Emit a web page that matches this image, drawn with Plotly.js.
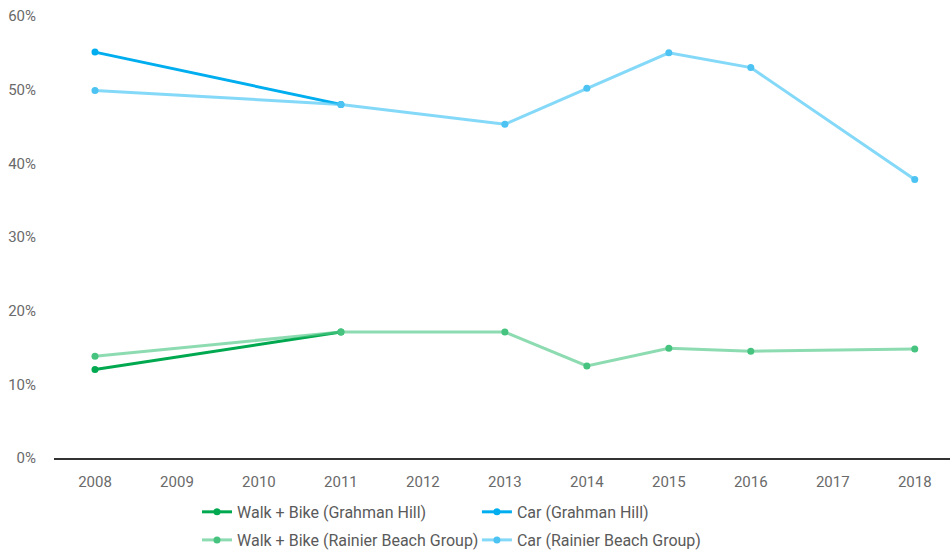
<!DOCTYPE html>
<html>
<head>
<meta charset="utf-8">
<script src="https://cdn.plot.ly/plotly-3.0.1.min.js"></script>
<style>html,body{margin:0;padding:0;background:#fff;}#chart{width:950px;height:550px;}</style>
</head>
<body>
<div id="chart"></div>
<script>
var yearTicks = [2008, 2009, 2010, 2011, 2012, 2013, 2014, 2015, 2016, 2017, 2018];
var yearsGH = [2008, 2011];
var yearsRB = [2008, 2011, 2013, 2014, 2015, 2016, 2018];
var walkGH = [0.12, 0.171];
var carGH = [0.551, 0.48];
var walkRB = [0.138, 0.171, 0.171, 0.125, 0.149, 0.145, 0.148];
var carRB = [0.499, 0.48, 0.453, 0.502, 0.55, 0.53, 0.378];
var seriesNames = ["Walk + Bike (Grahman Hill)", "Car (Grahman Hill)", "Walk + Bike (Rainier Beach Group)", "Car (Rainier Beach Group)"];

function tr(x, y, name, lineColor, markerColor, leg) {
  return {
    x: x, y: y, name: name, type: 'scatter', mode: 'lines+markers',
    line: {color: lineColor, width: 3},
    marker: {color: markerColor, size: 7},
    legend: leg,
    hoverinfo: 'x+y+name'
  };
}

var data = [
  tr(yearsGH, walkGH, seriesNames[0], '#00a94f', '#00a94f', 'legend'),
  tr(yearsGH, carGH, seriesNames[1], '#00aeef', '#00aeef', 'legend2'),
  tr(yearsRB, walkRB, seriesNames[2], 'rgba(80,200,135,0.65)', '#45c37f', 'legend3'),
  tr(yearsRB, carRB, seriesNames[3], 'rgba(80,200,245,0.7)', '#4cc3f2', 'legend4')
];

function leg(x, y) {
  return {
    orientation: 'h', x: x, xanchor: 'left', y: y, yanchor: 'middle',
    font: {size: 16, color: '#5a5a5a'}, itemwidth: 30,
    bgcolor: 'rgba(0,0,0,0)', borderwidth: 0
  };
}

var layout = {
  width: 950, height: 550,
  margin: {l: 54, r: 0, t: 16, b: 92, autoexpand: false},
  paper_bgcolor: '#fff', plot_bgcolor: '#fff',
  font: {family: 'Roboto, "Open Sans", sans-serif', color: '#6a6a6a', size: 15},
  xaxis: {
    range: [2007.5, 2018.43],
    tickvals: yearTicks, ticktext: yearTicks.map(String),
    showgrid: false, zeroline: false,
    showline: true, linecolor: '#333', linewidth: 1.5,
    ticks: '', ticklabelstandoff: 9, tickfont: {size: 15, color: '#6a6a6a'}
  },
  yaxis: {
    range: [0, 0.6], dtick: 0.1, tickformat: '.0%',
    showgrid: false, zeroline: false, showline: false,
    ticks: '', ticklabelstandoff: 17,
    tickfont: {size: 15, color: '#6a6a6a'}
  },
  showlegend: true,
  legend: leg(0.1596, -0.122),
  legend2: leg(0.472, -0.122),
  legend3: leg(0.1596, -0.1855),
  legend4: leg(0.472, -0.1855)
};

Plotly.newPlot('chart', data, layout, {displayModeBar: false, staticPlot: true});
</script>
</body>
</html>
